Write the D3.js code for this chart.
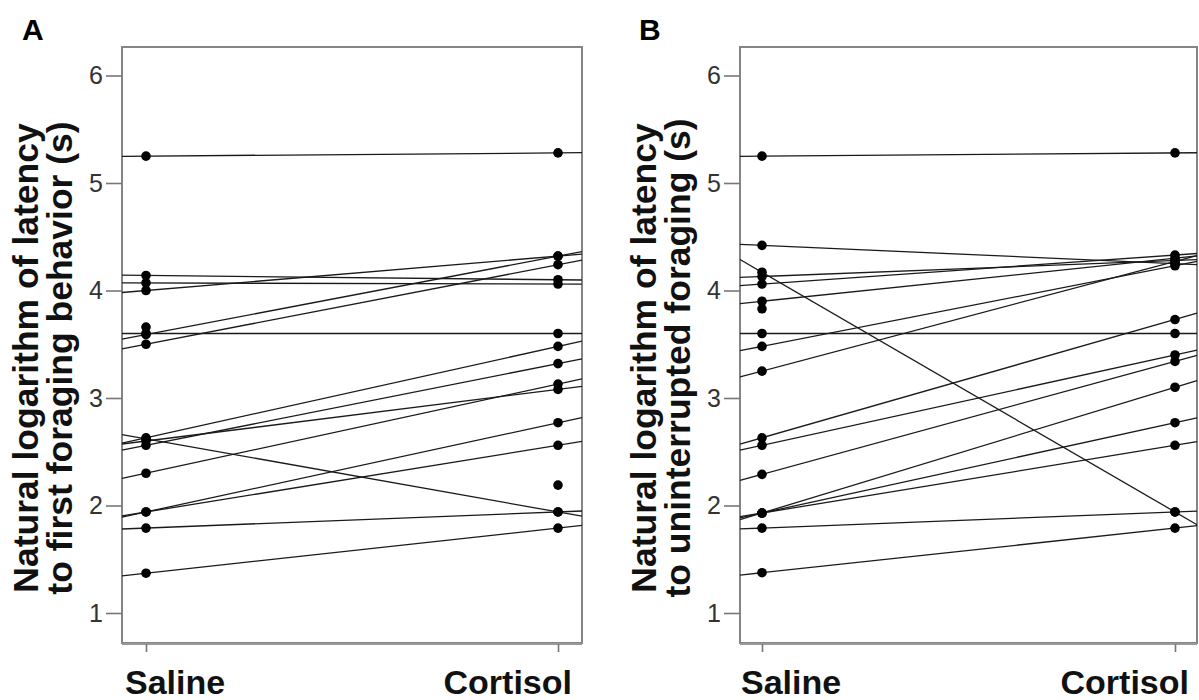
<!DOCTYPE html>
<meta charset="utf-8">
<style>
body { margin: 0; background: #fff; }
svg { display: block; font-family: "Liberation Sans", Arial, sans-serif; }
.axis text { fill: #333; font-size: 25px; }
.axis line { stroke: #777; stroke-width: 1.6px; }
.axis path { display: none; }
.frame { fill: none; stroke: #858585; stroke-width: 2px; }
.pair { fill: none; stroke: #1a1a1a; stroke-width: 1.3px; }
.dot { fill: #000; }
.ytitle { font-weight: bold; font-size: 35.5px; fill: #111; }
.cat { font-weight: bold; font-size: 34px; fill: #111; }
.letter { font-weight: bold; font-size: 30px; fill: #000; }
</style>
<body>
<div id="chart"></div>
<script src="https://cdn.jsdelivr.net/npm/d3@7"></script>
<script>
var categories = ["Saline", "Cortisol"];
var yTicks = [1, 2, 3, 4, 5, 6];

// panel A: paired fish, saline value and cortisol value
var salineA   = [5.25, 4.14, 4.07, 4.00, 3.59, 3.50, 3.60, 2.62, 2.63, 2.56, 2.60, 2.30, 1.94, 1.94, 1.79, 1.37];
var cortisolA = [5.28, 4.10, 4.06, 4.32, 4.32, 4.24, 3.60, 1.94, 3.48, 3.32, 3.08, 3.13, 2.77, 2.56, 1.94, 1.79];
var loneSalineA = [3.66];
var loneCortisolA = [2.19];

// panel B
var salineB   = [5.25, 4.42, 4.17, 4.13, 4.06, 3.90, 3.60, 3.48, 3.25, 2.63, 2.56, 2.29, 1.93, 1.93, 1.93, 1.79, 1.375];
var cortisolB = [5.28, 4.25, 1.94, 4.28, 4.33, 4.30, 3.60, 4.23, 4.27, 3.73, 3.40, 3.34, 2.77, 2.56, 3.10, 1.94, 1.79];
var loneSalineB = [3.83];
var loneCortisolB = [];

var titleA = ["Natural logarithm of latency", "to first foraging behavior (s)"];
var titleB = ["Natural logarithm of latency", "to uninterrupted foraging (s)"];

var svg = d3.select("#chart").append("svg")
    .attr("width", 1199)
    .attr("height", 700);

var plotTop = 47, plotBottom = 643;
var y = d3.scaleLinear().domain([1, 6]).range([613, 75.5]);

function drawPanel(cfg) {
    var g = svg.append("g");
    // x: 0 = saline, 1 = cortisol
    var x = d3.scaleLinear().domain([0, 1]).range([cfg.dotLeft, cfg.dotRight]);
    var tL = x.invert(cfg.left), tR = x.invert(cfg.right);

    g.append("rect")
        .attr("class", "frame")
        .attr("x", cfg.left).attr("y", plotTop)
        .attr("width", cfg.right - cfg.left)
        .attr("height", plotBottom - plotTop);
    g.append("line")
        .attr("x1", cfg.left).attr("x2", cfg.right)
        .attr("y1", plotBottom + 1).attr("y2", plotBottom + 1)
        .attr("stroke", "#9a9a9a").attr("stroke-width", 2);

    g.append("g")
        .attr("class", "axis")
        .attr("transform", "translate(" + cfg.left + ",0)")
        .call(d3.axisLeft(y).tickValues(yTicks).tickSize(16).tickPadding(3).tickFormat(d3.format("d")));

    g.append("g")
        .attr("class", "axis")
        .attr("transform", "translate(0," + (plotBottom + 1) + ")")
        .call(d3.axisBottom(x).tickValues([0, 1]).tickSize(8).tickFormat(""));

    var line = d3.line()
        .x(function(d) { return x(d.t); })
        .y(function(d) { return y(d.v); });

    var pairs = cfg.saline.map(function(s, i) { return { s: s, c: cfg.cortisol[i] }; });

    g.selectAll(".pair")
        .data(pairs)
        .enter().append("path")
        .attr("class", "pair")
        .attr("d", function(p) {
            return line([tL, tR].map(function(t) { return { t: t, v: p.s + (p.c - p.s) * t }; }));
        });

    var dots = [];
    cfg.saline.concat(cfg.loneSaline).forEach(function(v) { dots.push({ t: 0, v: v }); });
    cfg.cortisol.concat(cfg.loneCortisol).forEach(function(v) { dots.push({ t: 1, v: v }); });

    g.selectAll(".dot")
        .data(dots)
        .enter().append("circle")
        .attr("class", "dot")
        .attr("cx", function(d) { return x(d.t); })
        .attr("cy", function(d) { return y(d.v); })
        .attr("r", 4.8);

    g.append("text")
        .attr("class", "cat")
        .attr("x", x(0) - 21).attr("y", 694)
        .attr("text-anchor", "start")
        .text(categories[0]);
    g.append("text")
        .attr("class", "cat")
        .attr("x", x(1) + 14).attr("y", 694)
        .attr("text-anchor", "end")
        .text(categories[1]);

    var cy = 358;
    cfg.title.forEach(function(t, i) {
        g.append("text")
            .attr("class", "ytitle")
            .attr("text-anchor", "middle")
            .attr("transform", "translate(" + (cfg.left - 84 + i * 34) + "," + cy + ") rotate(-90)")
            .text(t);
    });

    g.append("text")
        .attr("class", "letter")
        .attr("x", cfg.letterX).attr("y", 40)
        .text(cfg.letter);
}

drawPanel({
    left: 122, right: 582, dotLeft: 146, dotRight: 558,
    saline: salineA, cortisol: cortisolA,
    loneSaline: loneSalineA, loneCortisol: loneCortisolA,
    title: titleA, letter: "A", letterX: 22
});

drawPanel({
    left: 740, right: 1197, dotLeft: 762, dotRight: 1175,
    saline: salineB, cortisol: cortisolB,
    loneSaline: loneSalineB, loneCortisol: loneCortisolB,
    title: titleB, letter: "B", letterX: 639
});
</script>
</body>
